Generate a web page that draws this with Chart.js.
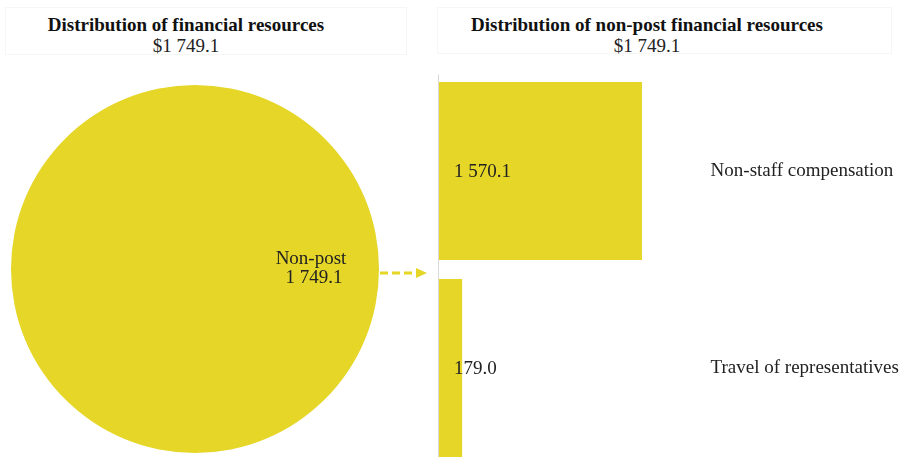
<!DOCTYPE html>
<html><head><meta charset="utf-8">
<script src="https://cdn.jsdelivr.net/npm/chart.js@4"></script>
<style>
html,body{margin:0;padding:0;width:903px;height:457px;overflow:hidden;background:#fff;font-family:"Liberation Serif","Times New Roman",serif;}
.tbox{position:absolute;border:1px solid #f6f6f6;}
.title{position:absolute;text-align:center;color:#111;white-space:nowrap;}
.title b{font-size:19px;display:block;line-height:21px;}
.title span{font-size:19px;display:block;line-height:21px;color:#222;}
canvas{position:absolute;}
</style></head><body>
<div class="tbox" style="left:5px;top:7px;width:400px;height:46px;"></div>
<div class="tbox" style="left:437px;top:7px;width:453px;height:45px;"></div>
<div class="title" style="left:-14px;width:400px;top:13.5px;"><b>Distribution of financial resources</b><span>$1 749.1</span></div>
<div class="title" style="left:447px;width:400px;top:13.5px;"><b>Distribution of non-post financial resources</b><span>$1 749.1</span></div>
<div style="position:absolute;left:0;top:80px;width:440px;height:377px;"><canvas id="pie"></canvas></div>
<div style="position:absolute;left:430px;top:60px;width:473px;height:420px;"><canvas id="bar"></canvas></div>
<script>
const pieCategories = ['Non-post'];
const pieValues = [1749.1];
const barCategories = ['Non-staff compensation', 'Travel of representatives'];
const barValues = [1570.1, 179.0];
const YELLOW = '#E5D627';
const FONT = '"Liberation Serif", "Times New Roman", serif';

function fmt(v){
  const s = v.toFixed(1);
  const [i, d] = s.split('.');
  return i.replace(/\B(?=(\d{3})+(?!\d))/g, ' ') + '.' + d;
}

const pieLabelPlugin = {
  id: 'pieLabel',
  afterDraw(chart){
    const ctx = chart.ctx;
    const arc = chart.getDatasetMeta(0).data[0];
    const cx = arc.x, cy = arc.y;
    ctx.save();
    ctx.fillStyle = '#222';
    ctx.font = '19px ' + FONT;
    ctx.textAlign = 'center';
    ctx.textBaseline = 'middle';
    ctx.fillText(pieCategories[0], cx + 116, cy - 10);
    ctx.fillText(fmt(pieValues[0]), cx + 119, cy + 9);
    // dashed arrow
    const r = arc.outerRadius;
    const y = cy + 4;
    const x0 = cx + r + 1;
    ctx.strokeStyle = YELLOW;
    ctx.fillStyle = YELLOW;
    ctx.lineWidth = 3;
    ctx.setLineDash([8, 4]);
    ctx.beginPath();
    ctx.moveTo(x0, y);
    ctx.lineTo(x0 + 38, y);
    ctx.stroke();
    ctx.setLineDash([]);
    ctx.beginPath();
    ctx.moveTo(x0 + 36, y - 5);
    ctx.lineTo(x0 + 47, y);
    ctx.lineTo(x0 + 36, y + 5);
    ctx.closePath();
    ctx.fill();
    ctx.restore();
  }
};

new Chart(document.getElementById('pie'), {
  type: 'pie',
  data: { labels: pieCategories, datasets: [{ data: pieValues, backgroundColor: YELLOW, borderWidth: 0 }] },
  options: {
    responsive: true, maintainAspectRatio: false, animation: false,
    layout: { padding: { left: 11, top: 5, right: 61, bottom: 4 } },
    plugins: { legend: { display: false }, tooltip: { enabled: false } }
  },
  plugins: [pieLabelPlugin]
});

const barLabelPlugin = {
  id: 'barLabel',
  afterDatasetsDraw(chart){
    const ctx = chart.ctx;
    const a = chart.chartArea;
    ctx.save();
    ctx.strokeStyle = '#d9d9d9';
    ctx.lineWidth = 1;
    ctx.beginPath();
    ctx.moveTo(a.left - 0.5, a.top + 2);
    ctx.lineTo(a.left - 0.5, a.bottom);
    ctx.stroke();
    ctx.fillStyle = '#222';
    ctx.font = '19px ' + FONT;
    ctx.textAlign = 'left';
    ctx.textBaseline = 'middle';
    chart.getDatasetMeta(0).data.forEach((bar, i) => {
      ctx.fillText(fmt(barValues[i]), a.left + 15, bar.y + 1);
    });
    ctx.restore();
  }
};

new Chart(document.getElementById('bar'), {
  type: 'bar',
  data: { labels: barCategories, datasets: [{ data: barValues, backgroundColor: YELLOW, borderWidth: 0, barPercentage: 0.95, categoryPercentage: 0.951 }] },
  options: {
    indexAxis: 'y',
    responsive: true, maintainAspectRatio: false, animation: false,
    layout: { padding: { left: 9, top: 12.5, right: 0, bottom: 13.5 } },
    scales: {
      x: { display: false, min: 0, max: 2000 },
      y: {
        position: 'right',
        grid: { display: false, drawTicks: false, drawOnChartArea: false },
        border: { display: false },
        ticks: { padding: 13, color: '#222', font: { family: FONT, size: 19 }, crossAlign: 'near' },
        afterFit(scale){ scale.width = 205.4; scale.paddingTop = 0; scale.paddingBottom = 0; }
      }
    },
    plugins: { legend: { display: false }, tooltip: { enabled: false } }
  },
  plugins: [barLabelPlugin]
});
</script>
</body></html>
